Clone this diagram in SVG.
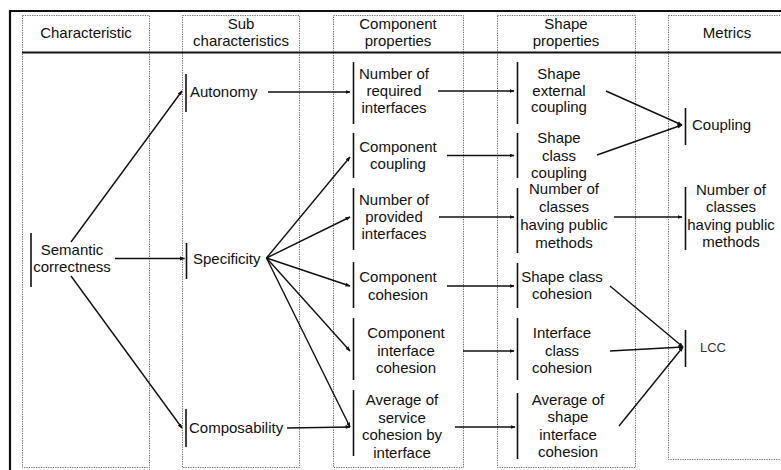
<svg xmlns="http://www.w3.org/2000/svg" width="781" height="470" viewBox="0 0 781 470">
<defs>
<style>
text{font-family:"Liberation Sans",Arial,sans-serif;font-size:15px;fill:#111}
.m{text-anchor:middle}
.col{fill:none;stroke:#666;stroke-width:1;stroke-dasharray:1.2 1.2}
.bar{stroke:#111;stroke-width:1.6}
.c{stroke:#111;stroke-width:1.4;fill:none}
.a{marker-end:url(#ah)}
</style>
<marker id="ah" viewBox="0 0 10 10" refX="9" refY="5" markerWidth="5" markerHeight="5" markerUnits="userSpaceOnUse" orient="auto">
<path d="M0,1 L10,5 L0,9 Z" fill="#111"/>
</marker>
</defs>
<rect width="781" height="470" fill="#fff"/>
<g id="frame">
<rect class="col" x="22.5" y="15.5" width="127" height="452"/>
<rect class="col" x="182.5" y="15.5" width="117" height="452"/>
<rect class="col" x="333.5" y="15.5" width="130" height="452"/>
<rect class="col" x="497.5" y="15.5" width="138" height="452"/>
<rect class="col" x="668.5" y="15.5" width="130" height="444"/>
<line x1="9" y1="11" x2="781" y2="11" stroke="#111" stroke-width="2.2"/>
<line x1="10" y1="10" x2="10" y2="470" stroke="#111" stroke-width="2.2"/>
<line x1="22" y1="52.5" x2="781" y2="52.5" stroke="#111" stroke-width="2"/>
</g>
<g id="headers">
<text class="m" x="86" y="38">Characteristic</text>
<text class="m" x="241" y="29">Sub</text>
<text class="m" x="241" y="46">characteristics</text>
<text class="m" x="398" y="29">Component</text>
<text class="m" x="398" y="46">properties</text>
<text class="m" x="566" y="29">Shape</text>
<text class="m" x="566" y="46">properties</text>
<text class="m" x="727" y="38">Metrics</text>
</g>
<g id="n-semantic">
<line class="bar" x1="31" y1="233" x2="31" y2="287"/>
<text class="m" x="72" y="255">Semantic</text>
<text class="m" x="72" y="272">correctness</text>
</g>
<g id="n-autonomy">
<line class="bar" x1="186" y1="74" x2="186" y2="112"/>
<text x="190" y="97">Autonomy</text>
</g>
<g id="n-specificity">
<line class="bar" x1="186.5" y1="243" x2="186.5" y2="279"/>
<text x="193" y="264">Specificity</text>
</g>
<g id="n-composability">
<line class="bar" x1="186" y1="409" x2="186" y2="447"/>
<text x="189" y="433">Composability</text>
</g>
<g id="n-required">
<line class="bar" x1="353.5" y1="62" x2="353.5" y2="124"/>
<text class="m" x="394" y="79">Number of</text>
<text class="m" x="394" y="96">required</text>
<text class="m" x="394" y="113">interfaces</text>
</g>
<g id="n-compcoupling">
<line class="bar" x1="353.5" y1="133" x2="353.5" y2="178"/>
<text class="m" x="398" y="152">Component</text>
<text class="m" x="398" y="169">coupling</text>
</g>
<g id="n-provided">
<line class="bar" x1="353.5" y1="188" x2="353.5" y2="250"/>
<text class="m" x="394" y="205">Number of</text>
<text class="m" x="394" y="222">provided</text>
<text class="m" x="394" y="239">interfaces</text>
</g>
<g id="n-compcohesion">
<line class="bar" x1="353.5" y1="262" x2="353.5" y2="308"/>
<text class="m" x="398" y="282">Component</text>
<text class="m" x="398" y="300">cohesion</text>
</g>
<g id="n-compintcohesion">
<line class="bar" x1="353.5" y1="318" x2="353.5" y2="380"/>
<text class="m" x="406" y="338">Component</text>
<text class="m" x="406" y="356">interface</text>
<text class="m" x="406" y="373">cohesion</text>
</g>
<g id="n-avgservice">
<line class="bar" x1="353.5" y1="390" x2="353.5" y2="456"/>
<text class="m" x="402" y="405">Average of</text>
<text class="m" x="402" y="423">service</text>
<text class="m" x="402" y="440">cohesion by</text>
<text class="m" x="402" y="458">interface</text>
</g>
<g id="n-shapeext">
<line class="bar" x1="517.5" y1="62" x2="517.5" y2="124"/>
<text class="m" x="559" y="79">Shape</text>
<text class="m" x="559" y="96">external</text>
<text class="m" x="559" y="112">coupling</text>
</g>
<g id="n-shapeclasscoupling">
<line class="bar" x1="517.5" y1="133" x2="517.5" y2="178"/>
<text class="m" x="559" y="143">Shape</text>
<text class="m" x="559" y="161">class</text>
<text class="m" x="559" y="178">coupling</text>
</g>
<g id="n-numclasses">
<line class="bar" x1="517.5" y1="188" x2="517.5" y2="253"/>
<text class="m" x="564" y="194">Number of</text>
<text class="m" x="564" y="212">classes</text>
<text class="m" x="564" y="230">having public</text>
<text class="m" x="564" y="248">methods</text>
</g>
<g id="n-shapeclasscohesion">
<line class="bar" x1="517.5" y1="263" x2="517.5" y2="308"/>
<text class="m" x="562" y="282">Shape class</text>
<text class="m" x="562" y="299">cohesion</text>
</g>
<g id="n-intclasscohesion">
<line class="bar" x1="517.5" y1="318" x2="517.5" y2="380"/>
<text class="m" x="562" y="338">Interface</text>
<text class="m" x="562" y="356">class</text>
<text class="m" x="562" y="373">cohesion</text>
</g>
<g id="n-avgshape">
<line class="bar" x1="517.5" y1="393" x2="517.5" y2="459"/>
<text class="m" x="568" y="405">Average of</text>
<text class="m" x="568" y="422">shape</text>
<text class="m" x="568" y="440">interface</text>
<text class="m" x="568" y="457">cohesion</text>
</g>
<g id="m-coupling">
<line class="bar" x1="685.5" y1="108" x2="685.5" y2="145"/>
<text x="692" y="130">Coupling</text>
</g>
<g id="m-numclasses">
<line class="bar" x1="685.5" y1="187" x2="685.5" y2="250"/>
<text class="m" x="731" y="195">Number of</text>
<text class="m" x="731" y="212">classes</text>
<text class="m" x="731" y="230">having public</text>
<text class="m" x="731" y="247">methods</text>
</g>
<g id="m-lcc">
<line class="bar" x1="685.5" y1="330" x2="685.5" y2="367"/>
<text x="700" y="352" style="font-size:13px;fill:#333">LCC</text>
</g>
<g id="connectors">
<line class="c a" x1="71" y1="242" x2="182" y2="91"/>
<line class="c a" x1="115" y1="258.5" x2="184.5" y2="258.5"/>
<line class="c a" x1="71" y1="276" x2="182" y2="428"/>
<line class="c a" x1="268" y1="92" x2="350" y2="92"/>
<line class="c a" x1="266.5" y1="258" x2="350" y2="157"/>
<line class="c a" x1="266.5" y1="258" x2="350" y2="217"/>
<line class="c a" x1="266.5" y1="258" x2="350" y2="286"/>
<line class="c a" x1="266.5" y1="258" x2="350" y2="351"/>
<line class="c a" x1="266.5" y1="258" x2="350" y2="427"/>
<line class="c a" x1="287" y1="428" x2="350" y2="427"/>
<line class="c a" x1="438" y1="91" x2="514" y2="91"/>
<line class="c a" x1="447" y1="155.5" x2="514" y2="155.5"/>
<line class="c a" x1="439" y1="217" x2="514" y2="217"/>
<line class="c a" x1="447" y1="286" x2="514" y2="286"/>
<line class="c a" x1="463" y1="351" x2="514" y2="351"/>
<line class="c a" x1="455" y1="427" x2="515" y2="427"/>
<line class="c a" x1="606" y1="91" x2="682" y2="125"/>
<line class="c a" x1="597" y1="155" x2="682" y2="125"/>
<line class="c a" x1="614" y1="217" x2="682" y2="217"/>
<line class="c a" x1="610" y1="286" x2="683" y2="347"/>
<line class="c a" x1="610" y1="351" x2="683" y2="347"/>
<line class="c a" x1="619" y1="426" x2="683" y2="347"/>
</g>
</svg>
